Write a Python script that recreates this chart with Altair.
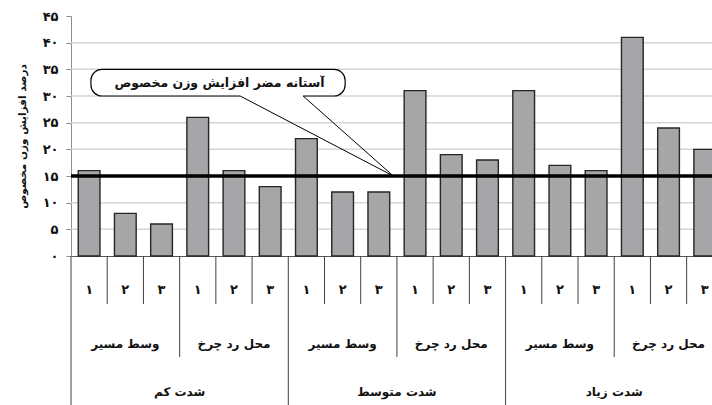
import altair as alt
import pandas as pd

# ---- data -------------------------------------------------------------
severity = ["شدت کم", "شدت متوسط", "شدت زیاد"]
location = ["وسط مسیر", "محل رد چرخ"]
repeat = ["۱", "۲", "۳"]
values = [16, 8, 6, 26, 16, 13, 22, 12, 12, 31, 19, 18, 31, 17, 16, 41, 24, 20]
threshold = 15
callout_text = "آستانه مضر افزایش وزن مخصوص"
y_title = "درصد افزایش وزن مخصوص"
y_ticks = [0, 5, 10, 15, 20, 25, 30, 35, 40, 45]
y_tick_labels = ["۰", "۵", "۱۰", "۱۵", "۲۰", "۲۵", "۳۰", "۳۵", "۴۰", "۴۵"]

# ---- layout / style ---------------------------------------------------
FONT = "DejaVu Sans"
PLOT_W, PLOT_H = 641, 240
X_DOMAIN = [0, 17.7]          # the last category runs past the right edge
BAR_GAP = 0.2                 # empty share on each side of a bar
ROW1_Y, ROW2_Y, ROW3_Y = 274, 328, 376
SEP1_END, SEP2_END, SEP3_END = 288, 341, 389

# callout position in data units
CALL_X0, CALL_X1, CALL_Y0, CALL_Y1 = 0.55, 7.57, 30, 35
CALL_TEXT_X, CALL_TEXT_Y = 4.1, 32.5
PTR_BASE = [4.67, 6.41]
PTR_TIP_X = 8.9

# ---- tables -----------------------------------------------------------
rows = []
for s in range(len(severity)):
    for l in range(len(location)):
        for r in range(len(repeat)):
            i = s * 6 + l * 3 + r
            rows.append({"i": i, "value": values[i], "rep": repeat[r],
                         "x0": i + BAR_GAP, "x1": i + 1 - BAR_GAP, "c": i + 0.5})
bars_df = pd.DataFrame(rows)

mid_df = pd.DataFrame([{"c": 3 * g + 1.5, "label": location[g % 2]}
                       for g in range(len(severity) * len(location))])
top_df = pd.DataFrame([{"c": 6 * s + 3, "label": severity[s]}
                       for s in range(len(severity))])

seps = []
for k in range(19):
    lvl = 3 if k % 6 == 0 else (2 if k % 3 == 0 else 1)
    seps.append({"k": k, "lvl": lvl})
sep_df = pd.DataFrame(seps)

grid_df = pd.DataFrame({"y": y_ticks[1:-1]})

xscale = alt.Scale(domain=X_DOMAIN, nice=False, zero=False)
yscale = alt.Scale(domain=[y_ticks[0], y_ticks[-1]], nice=False)

xaxis = alt.Axis(labels=False, ticks=False, grid=False, title=None,
                 domainColor="#595959", domainWidth=1)
label_expr = "[" + ",".join("'%s'" % t for t in y_tick_labels) + "][indexof([" + \
    ",".join(str(v) for v in y_ticks) + "], datum.value)]"
yaxis = alt.Axis(values=y_ticks, grid=False, title=y_title,
                 labelExpr=label_expr, labelFont=FONT, labelFontSize=13,
                 labelFontWeight="bold", labelColor="#111", labelPadding=8,
                 tickSize=5, tickColor="#8c8c8c", domainColor="#8c8c8c",
                 titleFont=FONT, titleFontSize=10.5, titleFontWeight="bold",
                 titleColor="#111", titleX=-49, titleY=120, titleAngle=270,
                 titleAlign="center", titleBaseline="middle")


def X(field):
    return alt.X(field, type="quantitative", scale=xscale, axis=xaxis)


def Y(field):
    return alt.Y(field, type="quantitative", scale=yscale, axis=yaxis)


grid = alt.Chart(grid_df).mark_rule(color="#d6d6d6", strokeWidth=1.5).encode(
    y=Y("y"), x=alt.value(0), x2=alt.value(PLOT_W))

bars = alt.Chart(bars_df).mark_bar(fill="#a6a6a9", stroke="#262626",
                                   strokeWidth=1.4).encode(
    x=X("x0"), x2="x1", y=Y("value"), y2=alt.datum(0))

thr = alt.Chart(pd.DataFrame({"t": [threshold]})).mark_rule(
    color="black", strokeWidth=3.5).encode(y=Y("t"), x=alt.value(0),
                                           x2=alt.value(PLOT_W))

box = alt.Chart(pd.DataFrame([{"x0": CALL_X0, "x1": CALL_X1, "y0": CALL_Y0,
                               "y1": CALL_Y1}])).mark_rect(
    fill="white", stroke="black", strokeWidth=1.2, cornerRadius=11).encode(
    x=X("x0"), x2="x1", y=Y("y0"), y2="y1")

gap = alt.Chart(pd.DataFrame([{"x0": PTR_BASE[0], "x1": PTR_BASE[1],
                               "y": CALL_Y0}])).mark_rule(
    color="white", strokeWidth=2.5).encode(x=X("x0"), x2="x1", y=Y("y"))

ptr_df = pd.DataFrame([
    {"x": PTR_BASE[0], "y": CALL_Y0, "o": 0},
    {"x": PTR_TIP_X, "y": threshold, "o": 1},
    {"x": PTR_BASE[1], "y": CALL_Y0, "o": 2},
])
pointer = alt.Chart(ptr_df).mark_line(color="black", strokeWidth=1).encode(
    x=X("x"), y=Y("y"), order="o:Q")

call_txt = alt.Chart(pd.DataFrame([{"x": CALL_TEXT_X, "y": CALL_TEXT_Y,
                                    "t": callout_text}])).mark_text(
    font=FONT, fontSize=12.5, fontWeight="bold", color="#111",
    baseline="middle").encode(x=X("x"), y=Y("y"), text="t:N")

sep_style = dict(color="#404040", strokeWidth=1)
sep1 = alt.Chart(sep_df[sep_df.lvl == 1]).mark_rule(**sep_style).encode(
    x=X("k"), y=alt.value(PLOT_H), y2=alt.value(SEP1_END))
sep2 = alt.Chart(sep_df[sep_df.lvl == 2]).mark_rule(**sep_style).encode(
    x=X("k"), y=alt.value(PLOT_H), y2=alt.value(SEP2_END))
sep3 = alt.Chart(sep_df[sep_df.lvl == 3]).mark_rule(**sep_style).encode(
    x=X("k"), y=alt.value(PLOT_H), y2=alt.value(SEP3_END))

txt_style = dict(font=FONT, fontWeight="bold", color="#111", baseline="middle")
row1 = alt.Chart(bars_df).mark_text(fontSize=13, **txt_style).encode(
    x=X("c"), y=alt.value(ROW1_Y), text="rep:N")
row2 = alt.Chart(mid_df).mark_text(fontSize=12, **txt_style).encode(
    x=X("c"), y=alt.value(ROW2_Y), text="label:N")
row3 = alt.Chart(top_df).mark_text(fontSize=12, **txt_style).encode(
    x=X("c"), y=alt.value(ROW3_Y), text="label:N")

chart = alt.layer(
    grid, bars, thr, box, gap, pointer, call_txt,
    sep1, sep2, sep3, row1, row2, row3,
).properties(
    width=PLOT_W, height=PLOT_H,
    autosize=alt.AutoSizeParams(type="none"),
    padding={"left": 71, "top": 16, "right": 0, "bottom": 149},
    background="white",
).configure_view(stroke=None)

chart.save("out.html", embed_options={"renderer": "svg", "actions": False})
